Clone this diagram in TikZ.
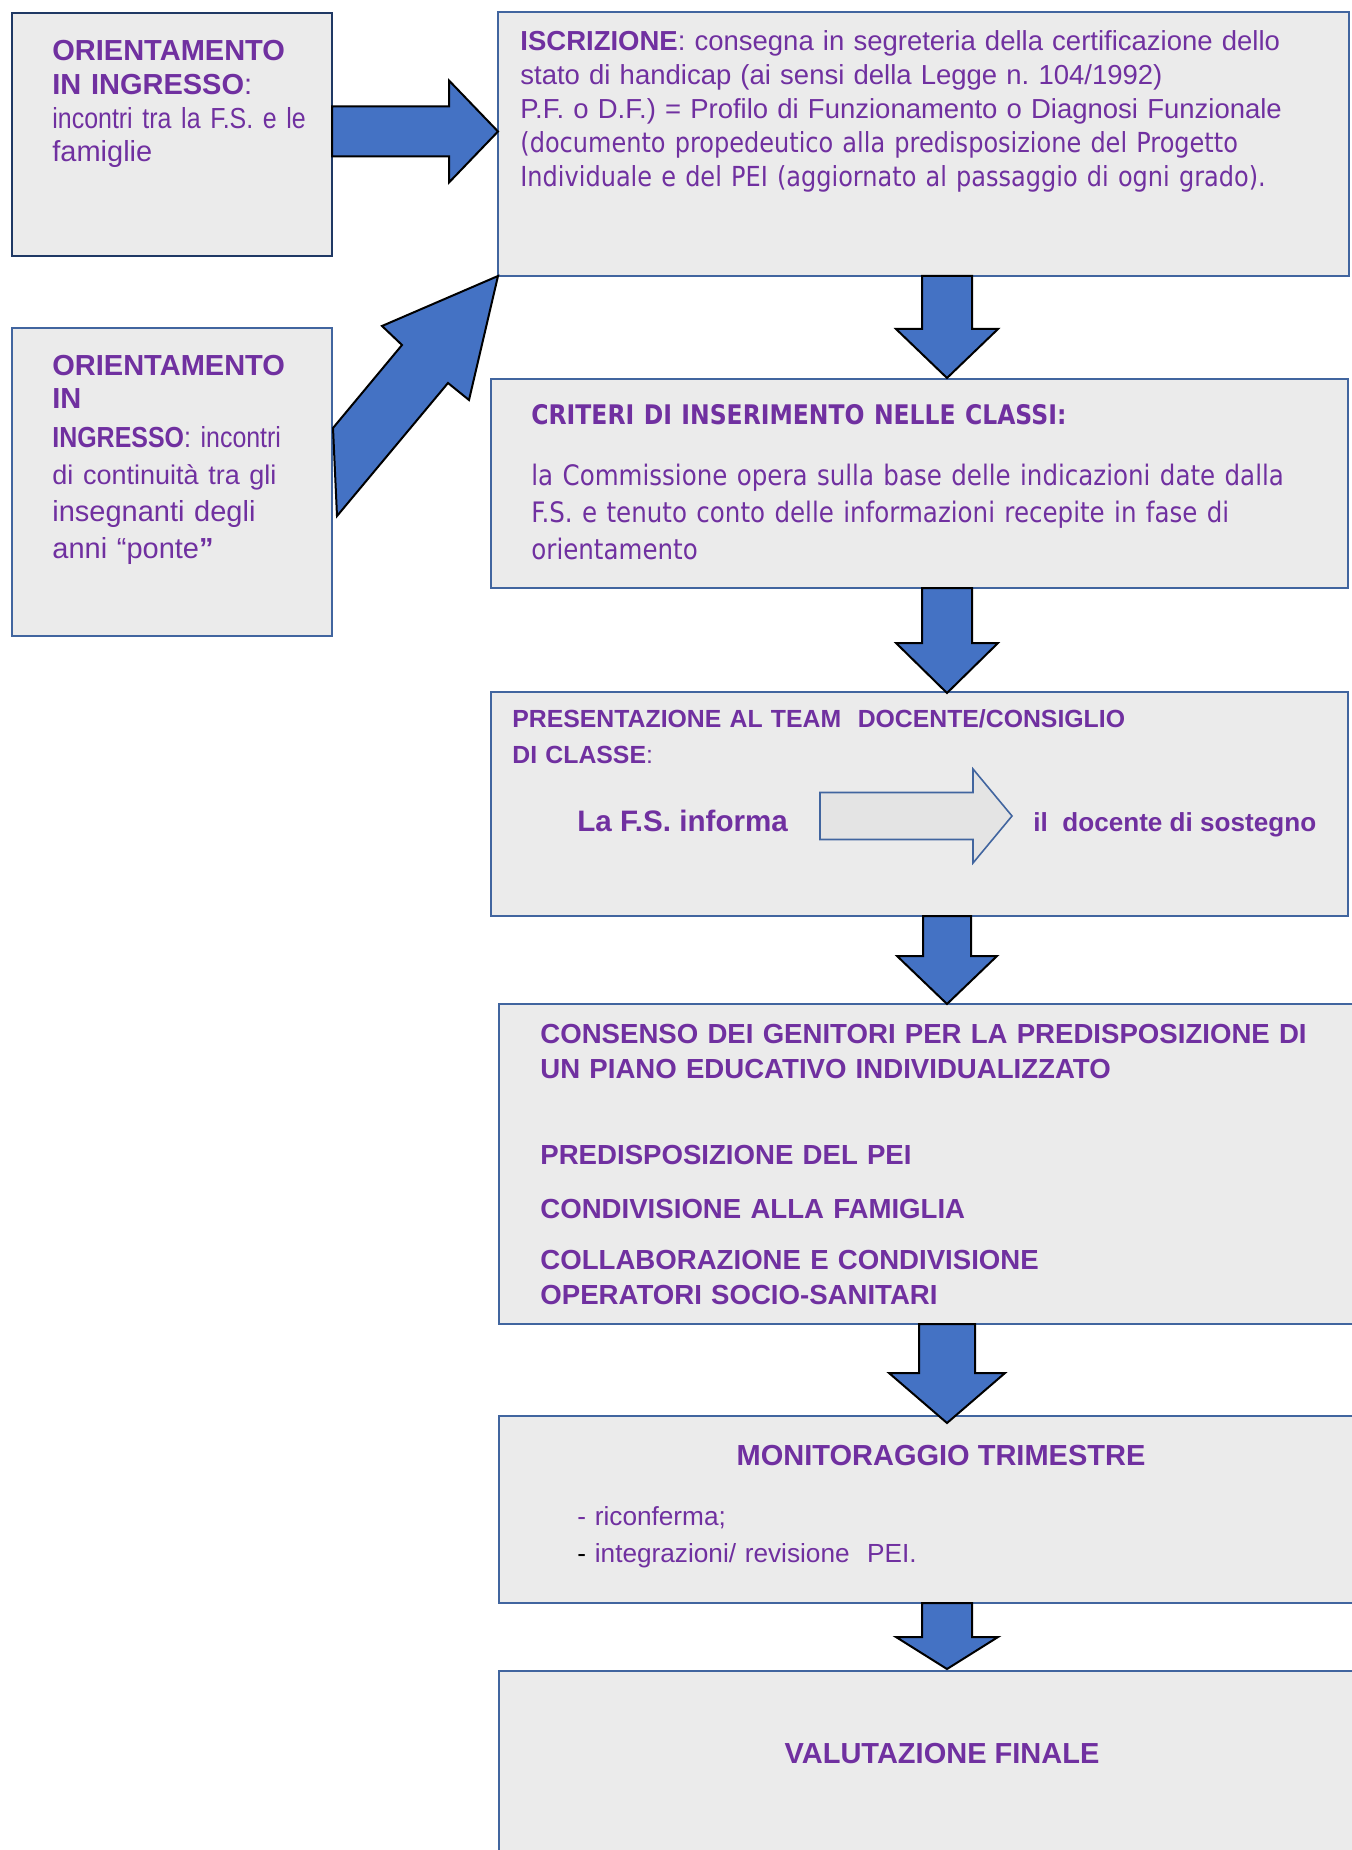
\documentclass[tikz,border=0pt]{standalone}
\usepackage{fontspec}
\setmainfont{Liberation Sans}
\newfontfamily\tahoma[FakeStretch=0.87]{DejaVu Sans}
\newfontfamily\narrowsans[FakeStretch=0.86]{Liberation Sans}
\usetikzlibrary{fit,calc}
\definecolor{boxgray}{HTML}{EBEBEB}
\definecolor{innergray}{HTML}{E4E4E4}
\definecolor{boxline}{HTML}{41659F}
\definecolor{boxdark}{HTML}{1F3864}
\definecolor{arrblue}{HTML}{4472C4}
\definecolor{txtpurple}{HTML}{7030A0}
\newcommand{\fsz}[2]{\fontsize{#1}{#2}\selectfont}
\frenchspacing
\tikzset{
  box/.style={draw=boxline, fill=boxgray, line width=1pt, inner sep=0pt, outer sep=0pt},
  txt/.style={text=txtpurple, align=left, inner sep=0pt, anchor=base west},
  ttl/.style={text=txtpurple, inner sep=0pt, anchor=base, font=\bfseries\fsz{14.5}{17}},
  blkarrow/.style={draw=black, fill=arrblue, line width=1pt, line join=miter},
  pics/arrdown/.style n args={4}{code={%
    \draw[pic actions] (-#1,0) -- (-#1,#3) -- (-#2,#3) -- (0,#3+#4) -- (#2,#3) -- (#1,#3) -- (#1,0) -- cycle;}},
  pics/arrright/.style n args={4}{code={%
    \draw[pic actions] (0,-#1) -- (#3,-#1) -- (#3,-#2) -- (#3+#4,0) -- (#3,#2) -- (#3,#1) -- (0,#1) -- cycle;}},
}
\begin{document}
\begin{tikzpicture}[x=0.5pt, y=-0.5pt]
\useasboundingbox (0,0) rectangle (1352,1850);
\clip (0,0) rectangle (1352,1850);
% boxes
\node[box, draw=boxdark, line width=1.4pt, fit={(12,13) (332,256)}] (orA) {};
\node[box, fit={(12,328) (332,636)}] (orB) {};
\node[box, fit={(498,12) (1349,276)}] (iscr) {};
\node[box, fit={(491,379) (1348,588)}] (crit) {};
\node[box, fit={(491,692) (1348,916)}] (pres) {};
\node[box, fit={(499,1004) (1383,1324)}] (cons) {};
\node[box, fit={(499,1416) (1383,1603)}] (mon) {};
\node[box, fit={(499,1671) (1383,1900)}] (val) {};
\coordinate (ax) at (947,0);

% texts
\node[txt, text width=200pt, font=\fsz{14.5}{16.8}] (orAtxt) at (52,61)
  {\textbf{ORIENTAMENTO}\\\textbf{IN INGRESSO}:\\{\narrowsans incontri tra la F.S. e le}\\famiglie};
\node[txt, text width=200pt, font=\fsz{14.5}{18.5}] (orBtxt) at (52,376)
  {\textbf{ORIENTAMENTO}\\[-2pt]\textbf{IN}\\[1pt]{\narrowsans\textbf{INGRESSO}: incontri}\\
   {\fsz{13.5}{18.5}di continuità tra gli}\\insegnanti degli\\anni “ponte\textbf{”}};
\node[txt, text width=440pt, font=\fsz{13.75}{17}] (iscrtxt) at (520,51)
  {\textbf{ISCRIZIONE}: consegna in segreteria della certificazione dello\\
   stato di handicap (ai sensi della Legge n. 104/1992)\\
   P.F. o D.F.) = Profilo di Funzionamento o Diagnosi Funzionale\\
   {\tahoma\fsz{13.8}{17}(documento propedeutico alla predisposizione del Progetto\\
   Individuale e del PEI (aggiornato al passaggio di ogni grado).}};
\node[txt, text width=440pt, font=\tahoma\fsz{14.1}{18.5}] (crittxt) at (531,425)
  {{\fsz{13.5}{18.5}\textbf{CRITERI DI INSERIMENTO NELLE CLASSI:}}\\[11.5pt]
   la Commissione opera sulla base delle indicazioni date dalla\\
   F.S. e tenuto conto delle informazioni recepite in fase di\\
   orientamento};
\node[txt, text width=440pt, font=\fsz{12.4}{18}] (prestxt) at (512,727)
  {\textbf{PRESENTAZIONE AL TEAM\ \ DOCENTE/CONSIGLIO}\\\textbf{DI CLASSE}:};
\node[txt, font=\bfseries\fsz{14.8}{17}] (fsinf) at (577,831) {La F.S. informa};
\node[txt, font=\bfseries\fsz{13.05}{17}] (docsost) at (1033,831) {il\ \ docente di sostegno};
\node[txt, text width=440pt, font=\bfseries\fsz{13.8}{17.5}] (constxt) at (540,1043)
  {CONSENSO DEI GENITORI PER LA PREDISPOSIZIONE DI\\
   UN PIANO EDUCATIVO INDIVIDUALIZZATO\\[25.5pt]
   PREDISPOSIZIONE DEL PEI\\[9.5pt]
   CONDIVISIONE ALLA FAMIGLIA\\[8pt]
   COLLABORAZIONE E CONDIVISIONE\\
   OPERATORI SOCIO-SANITARI};
\node[ttl] (montit) at (941,1465) {MONITORAGGIO TRIMESTRE};
\node[txt, text width=300pt, font=\fsz{13.1}{18.5}] (montxt) at (577,1525)
  {- riconferma;\\{\color{black}-} integrazioni/ revisione\ \ PEI.};
\node[ttl] (valtit) at (942,1763) {VALUTAZIONE FINALE};

% arrows
\pic[blkarrow] at ($(orA.east)+(0,-3)$) {arrright={25}{51}{117}{49}};
\draw[blkarrow] ($(orB.north east)+(1,100)$) -- ($(orB.north east)+(70,17)$)
  -- ($(orB.north east)+(50,-2)$) -- (iscr.south west) -- ($(orB.north east)+(137,72)$)
  -- ($(orB.north east)+(116,55)$) -- ($(orB.north east)+(5,188)$) -- cycle;
\pic[blkarrow] at (ax |- iscr.south) {arrdown={25}{51}{53}{49}};
\pic[blkarrow] at (ax |- crit.south) {arrdown={25}{51}{55}{50}};
\pic[blkarrow] at (ax |- pres.south) {arrdown={24}{50}{40}{48}};
\pic[blkarrow] at (ax |- cons.south) {arrdown={28}{58}{49}{50}};
\pic[blkarrow] at (ax |- mon.south) {arrdown={25}{51}{34}{32}};
\pic[draw=boxline, fill=innergray, line width=0.8pt] at (820,816) {arrright={23.5}{47}{153}{39}};
\end{tikzpicture}
\end{document}
